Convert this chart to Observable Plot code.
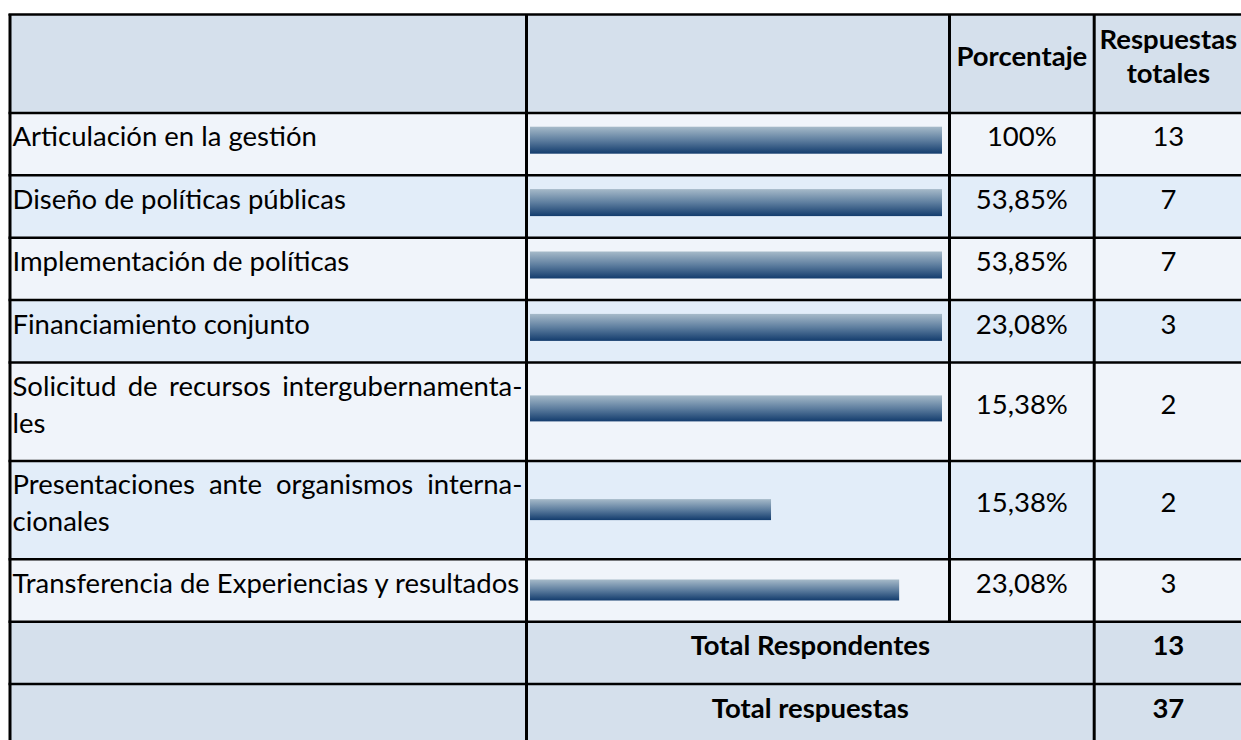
<!DOCTYPE html>
<html>
<head>
<meta charset="utf-8">
<script src="https://cdn.jsdelivr.net/npm/d3@7"></script>
<script src="https://cdn.jsdelivr.net/npm/@observablehq/plot@0.6"></script>
<style>
  html, body { margin: 0; padding: 0; background: #ffffff; }
  #chart svg { display: block; }
</style>
</head>
<body>
<div id="chart"></div>
<script>
// ---------------- data ----------------
const categories = [
  "Articulación en la gestión",
  "Diseño de políticas públicas",
  "Implementación de políticas",
  "Financiamiento conjunto",
  "Solicitud de recursos intergubernamentales",
  "Presentaciones ante organismos internacionales",
  "Transferencia de Experiencias y resultados"
];
const categoryLines = [
  ["Articulación en la gestión"],
  ["Diseño de políticas públicas"],
  ["Implementación de políticas"],
  ["Financiamiento conjunto"],
  ["Solicitud de recursos intergubernamenta-", "les"],
  ["Presentaciones ante organismos interna-", "cionales"],
  ["Transferencia de Experiencias y resultados"]
];
const percentLabels = ["100%", "53,85%", "53,85%", "23,08%", "15,38%", "15,38%", "23,08%"];
const totalResponses = [13, 7, 7, 3, 2, 2, 3];
// bar lengths as drawn in the picture (% of the bar column)
const barLengths = [100, 100, 100, 100, 100, 58.5, 89.6];
const headerPercent = "Porcentaje";
const headerResponses = ["Respuestas", "totales"];
const totalLabels = ["Total Respondentes", "Total respuestas"];
const totalValues = [13, 37];

// ---------------- layout ----------------
const W = 1241, H = 740;
const colX = [9.5, 526, 949, 1093.7, 1242];
const barX0 = 530, barX1 = 942;
const u = px => (px - barX0) / (barX1 - barX0) * 100; // pixel -> x-scale units
const top0 = 14, baseH = 26.4, lineStep = 36;
const FS = 27.5;
const bodyLineH = 37, headLineH = 34;

const rows = [];
rows.push({kind: "header", nLines: 2});
categories.forEach((c, i) => rows.push({
  kind: "body", i, cat: c, lines: categoryLines[i], nLines: categoryLines[i].length,
  bar: barLengths[i], pct: percentLabels[i], n: totalResponses[i]
}));
totalLabels.forEach((l, i) => rows.push({kind: "total", i, label: l, value: totalValues[i], nLines: 1}));
let t = top0;
for (const r of rows) {
  r.top = t; r.h = baseH + lineStep * r.nLines; r.bottom = t + r.h;
  r.c = (r.top + r.bottom) / 2 - 6.5;
  t = r.bottom;
}
const tableBottom = t;
const bodyRows = rows.filter(r => r.kind === "body");
const totalRows = rows.filter(r => r.kind === "total");
const headerRow = rows[0];

const fillFor = r => r.kind === "body" ? (r.i % 2 === 0 ? "#f0f4fa" : "#e2edf9") : "#d5e0ec";

// bar styling (thickness / shift relative to row centre)
const barThick = [27, 27, 27, 27, 26, 21, 21];
const barShift = [-3.4, -3.4, -3.4, -3.4, -2.8, 0, 0];

// left column text lines
const leftLines = [];
bodyRows.forEach(r => {
  r.lines.forEach((ln, k) => {
    leftLines.push({
      text: ln,
      y: r.c + (k - (r.nLines - 1) / 2) * bodyLineH,
      justify: r.nLines > 1 && k < r.nLines - 1
    });
  });
});
const justifiedTexts = new Set(leftLines.filter(d => d.justify).map(d => d.text));

const colC3 = (colX[2] + colX[3]) / 2;
const colC4 = (colX[3] + colX[4]) / 2;
const colC23 = (colX[1] + colX[3]) / 2;

// grid lines
const hLines = rows.map(r => ({y: r.top}));
const vLines = [
  {x: colX[0], y1: top0, y2: tableBottom},
  {x: colX[1], y1: top0, y2: tableBottom},
  {x: colX[2], y1: top0, y2: totalRows[0].top},
  {x: colX[3], y1: top0, y2: tableBottom}
];

const chart = Plot.plot({
  width: W, height: H,
  marginTop: 0, marginRight: 0, marginBottom: 0, marginLeft: 0,
  x: {domain: [0, 100], range: [barX0, barX1], axis: null},
  y: {domain: [0, H], range: [0, H], axis: null},
  color: {type: "identity"},
  style: {fontFamily: "Lato, 'Open Sans', sans-serif", background: "#ffffff", overflow: "visible", color: "#000"},
  marks: [
    // row backgrounds
    Plot.rect(rows, {x1: u(colX[0]), x2: u(colX[4]), y1: "top", y2: "bottom", fill: fillFor}),
    // bars
    Plot.rect(bodyRows, {
      x1: 0, x2: "bar",
      y1: r => (r.top + r.bottom) / 2 + barShift[r.i] - barThick[r.i] / 2,
      y2: r => (r.top + r.bottom) / 2 + barShift[r.i] + barThick[r.i] / 2,
      fill: "url(#barGrad)"
    }),
    // horizontal grid lines
    Plot.ruleY(hLines, {y: "y", x1: u(colX[0] - 1), x2: u(colX[4]), stroke: "#000", strokeWidth: 2.5}),
    // vertical grid lines
    Plot.ruleX(vLines, {x: d => u(d.x), y1: "y1", y2: "y2", stroke: "#000", strokeWidth: 3}),
    // header
    Plot.text([headerPercent], {x: u(colC3), y: headerRow.c, text: d => d, fontSize: FS, fontWeight: "bold", fill: "#000"}),
    Plot.text(headerResponses, {
      x: u(colC4), y: (d, k) => headerRow.c + (k - 0.5) * headLineH,
      text: d => d, fontSize: FS, fontWeight: "bold", fill: "#000"
    }),
    // left column labels
    Plot.text(leftLines, {x: u(12), y: "y", text: "text", textAnchor: "start", fontSize: FS, fill: "#000"}),
    // percentages and counts
    Plot.text(bodyRows, {x: u(colC3), y: "c", text: "pct", fontSize: FS, fill: "#000"}),
    Plot.text(bodyRows, {x: u(colC4), y: "c", text: r => String(r.n), fontSize: FS, fill: "#000"}),
    // totals
    Plot.text(totalRows, {x: u(colC23), y: "c", text: "label", fontSize: FS, fontWeight: "bold", fill: "#000"}),
    Plot.text(totalRows, {x: u(colC4), y: "c", text: r => String(r.value), fontSize: FS, fontWeight: "bold", fill: "#000"})
  ]
});

// gradient definition for the bars
const NS = "http://www.w3.org/2000/svg";
const defs = document.createElementNS(NS, "defs");
const grad = document.createElementNS(NS, "linearGradient");
grad.setAttribute("id", "barGrad");
grad.setAttribute("x1", "0"); grad.setAttribute("y1", "0");
grad.setAttribute("x2", "0"); grad.setAttribute("y2", "1");
[["0%", "#a6bac9"], ["50%", "#5e7e9f"], ["100%", "#133c6d"]].forEach(([o, c]) => {
  const s = document.createElementNS(NS, "stop");
  s.setAttribute("offset", o); s.setAttribute("stop-color", c);
  grad.appendChild(s);
});
defs.appendChild(grad);
chart.insertBefore(defs, chart.firstChild);

document.getElementById("chart").appendChild(chart);

// justify wrapped lines (word spacing) to the column width
function justify() {
  const target = 522 - 12;
  chart.querySelectorAll("text").forEach(el => {
    const txt = el.textContent;
    if (!justifiedTexts.has(txt)) return;
    el.style.wordSpacing = "0px";
    const len = el.getComputedTextLength();
    const spaces = (txt.match(/ /g) || []).length;
    if (spaces > 0) el.style.wordSpacing = Math.max(0, (target - len) / spaces) + "px";
  });
}
justify();
if (document.fonts && document.fonts.ready) document.fonts.ready.then(justify);
</script>
</body>
</html>
